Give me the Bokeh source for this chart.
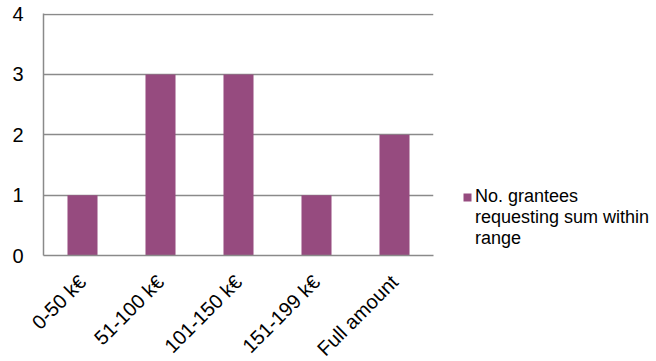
import math
from bokeh.plotting import figure
from bokeh.models import (FactorRange, Range1d, FixedTicker, ColumnDataSource,
                          Legend, LegendItem)
from bokeh.embed import file_html
from bokeh.resources import INLINE

# Requested amount ranges and number of grantees in each
categories = ["0-50 k€", "51-100 k€", "101-150 k€", "151-199 k€", "Full amount"]
grantees = [1, 3, 3, 1, 2]
y_ticks = [0, 1, 2, 3, 4]
series_lines = ["No. grantees", "requesting sum within", "range"]

BAR = "#964B7F"
GRID = "#8a8a8a"
FONT = "Liberation Sans"

src = ColumnDataSource(dict(cat=categories, n=grantees))

p = figure(
    width=656, height=361,
    x_range=FactorRange(factors=categories, range_padding=0),
    y_range=Range1d(0, 4.01),
    output_backend="svg", toolbar_location=None,
    min_border_left=43, min_border_right=223,
    min_border_top=13, min_border_bottom=106,
)
p.frame_width = 390
p.frame_height = 242

r = p.vbar(x="cat", top="n", width=0.385, source=src,
           fill_color=BAR, line_color=None)

# empty, invisible renderer so the wrapped series name continues
# on the following legend rows without a swatch
blank = p.vbar(x=[], top=[], width=0.385, fill_alpha=0, line_alpha=0)

p.outline_line_color = None
p.xgrid.grid_line_color = None
p.ygrid.grid_line_color = GRID
p.ygrid.grid_line_width = 1.5
p.ygrid.ticker = FixedTicker(ticks=y_ticks)

p.yaxis.ticker = FixedTicker(ticks=y_ticks)
for ax in (p.xaxis, p.yaxis):
    ax.axis_line_color = GRID
    ax.axis_line_width = 1.5
    ax.major_tick_line_color = None
    ax.minor_tick_line_color = None
    ax.major_label_text_font = FONT
    ax.major_label_text_font_size = "20px"
    ax.major_label_text_color = "#000000"

p.yaxis.major_label_standoff = 14
p.xaxis.major_label_orientation = math.pi / 4
p.xaxis.major_label_standoff = 17

legend = Legend(
    items=[LegendItem(label=series_lines[0], renderers=[r]),
           LegendItem(label=series_lines[1], renderers=[blank]),
           LegendItem(label=series_lines[2], renderers=[blank])],
    location=(29, 6),
    border_line_color=None, background_fill_alpha=0,
    padding=0, margin=0, spacing=0,
    glyph_width=10, glyph_height=10, label_standoff=3,
    label_height=21,
    label_text_font=FONT, label_text_font_size="18px",
    label_text_color="#000000",
)
p.add_layout(legend, "right")

open("out.html", "w").write(file_html(p, INLINE))
